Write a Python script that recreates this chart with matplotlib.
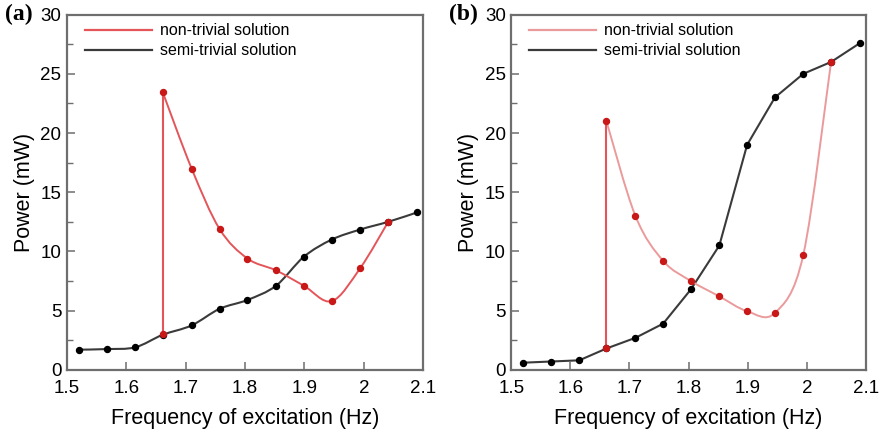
import matplotlib
matplotlib.use("Agg")
import matplotlib.pyplot as plt
import numpy as np
from matplotlib.path import Path
from matplotlib.patches import PathPatch
from matplotlib.lines import Line2D
from matplotlib.ticker import MultipleLocator

plt.rcParams["font.family"] = ["Liberation Sans", "DejaVu Sans"]

# excitation frequencies (Hz), shared by both panels
FREQ = [1.520, 1.567, 1.615, 1.661, 1.710, 1.757, 1.804, 1.852,
        1.899, 1.946, 1.994, 2.041, 2.090]

# panel (a)
SEMI_A = [1.7, 1.75, 1.9, 2.95, 3.75, 5.15, 5.9, 7.1, 9.55, 11.0, 11.85, 12.5, 13.3]
JUMP_A = (1.661, 3.0, 23.5)          # x, lower, upper of the vertical jump
NONTRIV_FREQ_A = [1.661, 1.710, 1.757, 1.804, 1.852, 1.899, 1.946, 1.994, 2.041]
NONTRIV_A = [23.5, 17.0, 11.9, 9.4, 8.4, 7.1, 5.8, 8.6, 12.5]

# panel (b)
SEMI_B = [0.6, 0.7, 0.8, 1.8, 2.7, 3.9, 6.8, 10.5, 19.0, 23.0, 25.0, 26.0, 27.6]
JUMP_B = (1.661, 1.8, 21.0)
NONTRIV_FREQ_B = [1.661, 1.710, 1.757, 1.804, 1.852, 1.899, 1.946, 1.994, 2.041]
NONTRIV_B = [21.0, 13.0, 9.2, 7.5, 6.2, 4.95, 4.8, 9.7, 26.0]

RED_LINE = "#e4555a"
RED_LINE_B = "#eb9a9c"
RED_DOT = "#c81818"
DARK_LINE = "#3a3a3a"
SPINE = "#6e6e6e"


def smooth_path(xs, ys):
    """Catmull-Rom through the data points, drawn as cubic Bezier segments."""
    p = np.column_stack([xs, ys]).astype(float)
    ext = np.vstack([p[0], p, p[-1]])
    verts = [p[0]]
    codes = [Path.MOVETO]
    for i in range(len(p) - 1):
        p0, p1, p2, p3 = ext[i], ext[i + 1], ext[i + 2], ext[i + 3]
        verts += [p1 + (p2 - p0) / 6, p2 - (p3 - p1) / 6, p2]
        codes += [Path.CURVE4] * 3
    return Path(verts, codes)


def panel(ax, semi, jump, nf, nv, red_curve, semi_smooth, tag):
    if semi_smooth:
        ax.add_patch(PathPatch(smooth_path(FREQ, semi), fc="none", ec=DARK_LINE, lw=1.5, zorder=2))
    else:
        ax.plot(FREQ, semi, color=DARK_LINE, lw=1.5, zorder=2)
    ax.plot(FREQ, semi, "o", color="black", ms=4.3, zorder=4)
    ax.add_patch(PathPatch(smooth_path(nf, nv), fc="none", ec=red_curve, lw=1.4, zorder=3))
    ax.plot([jump[0], jump[0]], [jump[1], jump[2]], color=RED_LINE, lw=1.5, zorder=3)
    ax.plot([jump[0]] + nf, [jump[1]] + nv, "o", color=RED_DOT, ms=4.3, zorder=5)

    ax.set_xlim(1.5, 2.1)
    ax.set_ylim(0, 30)
    ax.yaxis.set_major_locator(MultipleLocator(5))
    ax.yaxis.set_minor_locator(MultipleLocator(2.5))
    ax.set_xticks([1.5, 1.6, 1.7, 1.8, 1.9, 2.0, 2.1])
    ax.set_xticklabels(["1.5", "1.6", "1.7", "1.8", "1.9", "2", "2.1"])
    ax.tick_params(direction="in", length=6, width=1.1, color=SPINE, labelsize=13.5)
    ax.tick_params(axis="x", pad=7)
    ax.tick_params(axis="y", pad=4)
    ax.tick_params(which="minor", direction="in", length=4, width=1.0, color=SPINE)
    ax.tick_params(axis="x", which="both", top=False)
    ax.tick_params(axis="y", which="both", right=False)
    for s in ax.spines.values():
        s.set_color(SPINE)
        s.set_linewidth(1.6)
    ax.set_xlabel("Frequency of excitation (Hz)", fontsize=15.5, labelpad=8)
    ax.set_ylabel("Power (mW)", fontsize=15.5, labelpad=4)

    handles = [Line2D([], [], color=RED_LINE if tag == "(a)" else RED_LINE_B, lw=1.6),
               Line2D([], [], color=DARK_LINE, lw=1.6)]
    ax.legend(handles, ["non-trivial solution", "semi-trivial solution"], loc="upper left",
              frameon=False, fontsize=11.5, handlelength=4.2, handletextpad=0.5,
              labelspacing=0.3, borderaxespad=0.15, bbox_to_anchor=(0.025, 1.0))
    ax.text(-0.175, 1.0, tag, transform=ax.transAxes, fontsize=17, fontweight="bold",
            family=["Liberation Serif", "DejaVu Serif"], va="center", ha="left")


fig = plt.figure(figsize=(8.8, 4.3), dpi=100)
ax_a = fig.add_axes([0.076, 0.14, 0.405, 0.826])
ax_b = fig.add_axes([0.581, 0.14, 0.403, 0.826])

panel(ax_a, SEMI_A, JUMP_A, NONTRIV_FREQ_A, NONTRIV_A, RED_LINE, True, "(a)")
panel(ax_b, SEMI_B, JUMP_B, NONTRIV_FREQ_B, NONTRIV_B, RED_LINE_B, False, "(b)")

fig.savefig("out.png", dpi=100)
